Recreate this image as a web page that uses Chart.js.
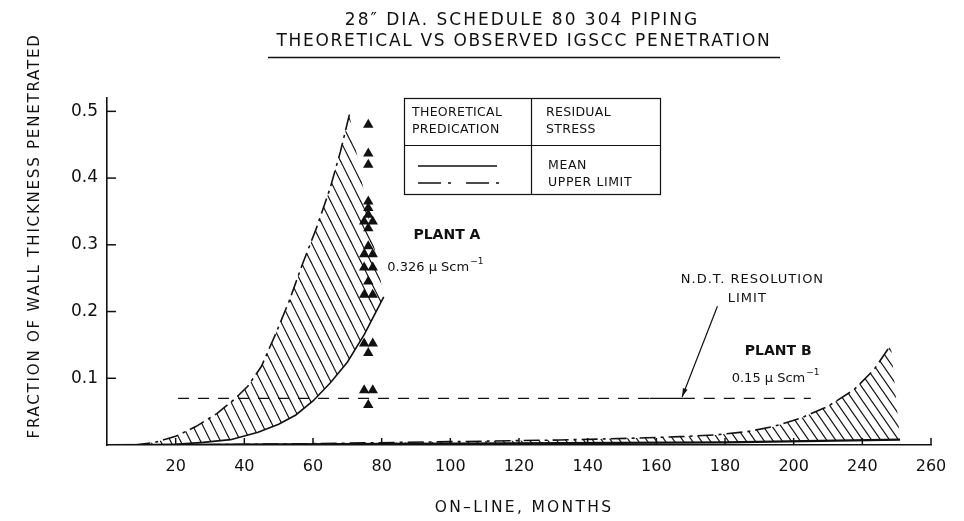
<!DOCTYPE html>
<html>
<head>
<meta charset="utf-8">
<script src="https://cdn.jsdelivr.net/npm/chart.js@4.4.1/dist/chart.umd.min.js"></script>
<style>
  html, body { margin: 0; padding: 0; background: #fff; }
  #wrap { width: 964px; height: 521px; position: relative; }
</style>
</head>
<body>
<div id="wrap"><canvas id="c" width="964" height="521"></canvas></div>
<script>
// ---- axis ticks (on-line months) and the labels printed under them ----
const xTickValues = [20, 40, 60, 80, 100, 120, 140, 160, 180, 200, 220, 240];
const xTickLabels = ['20', '40', '60', '80', '100', '120', '140', '160', '180', '200', '240', '260'];
const yTickValues = [0.1, 0.2, 0.3, 0.4, 0.5];
const yTickLabels = ['0.1', '0.2', '0.3', '0.4', '0.5'];

// ---- Plant A (0.326 uS/cm): theoretical prediction ----
const plantAUpperMonths   = [8, 14, 20, 26, 32, 37, 41, 45, 49, 53, 57, 61, 65, 68, 70.6];
const plantAUpperFraction = [0, 0.004, 0.013, 0.028, 0.047, 0.068, 0.088, 0.118, 0.165, 0.215, 0.272, 0.325, 0.385, 0.44, 0.495];
const plantAMeanMonths    = [10, 20, 28, 36, 44, 50, 55, 60, 65, 70, 75, 80.6];
const plantAMeanFraction  = [0, 0.001, 0.004, 0.008, 0.019, 0.031, 0.045, 0.066, 0.093, 0.124, 0.166, 0.222];

// ---- Plant A observed penetrations ----
const obsAMonths   = [76.1, 76.1, 76.1, 76.1, 76.1, 76.1, 74.9, 77.4, 76.1, 76.1, 74.9, 77.4, 74.9, 77.4, 76.1, 74.9, 77.4, 74.9, 77.4, 76.1, 74.9, 77.4, 76.1];
const obsAFraction = [0.48, 0.437, 0.42, 0.365, 0.355, 0.345, 0.335, 0.335, 0.325, 0.298, 0.286, 0.286, 0.266, 0.266, 0.245, 0.225, 0.225, 0.152, 0.152, 0.138, 0.082, 0.082, 0.06];

// ---- Plant B (0.15 uS/cm): theoretical prediction ----
const plantBUpperMonths   = [20, 60, 100, 132, 152, 167, 177, 186.5, 194, 202, 210, 217.6, 223.4, 228.3];
const plantBUpperFraction = [0, 0.002, 0.005, 0.0075, 0.01, 0.0125, 0.015, 0.02, 0.0275, 0.04, 0.058, 0.083, 0.113, 0.15];
const plantBMeanMonths    = [0, 100, 180, 231];
const plantBMeanFraction  = [0, 0.002, 0.004, 0.008];

// ---- N.D.T. resolution limit ----
const ndtMonths   = [20.7, 158, 168, 205];
const ndtFraction = [0.07, 0.07, 0.07, 0.07];

const INK = '#111';
const FONT = "'DejaVu Sans', 'Liberation Sans', sans-serif";

const pts = (xs, ys) => xs.map((x, i) => ({ x, y: ys[i] }));
const band = (ux, uy, mx, my) => pts(ux, uy).concat(pts(mx, my).reverse());

// diagonal line hatching tile
function hatch(w, h, lw) {
  const c = document.createElement('canvas');
  c.width = w; c.height = h;
  const g = c.getContext('2d');
  g.strokeStyle = INK; g.lineWidth = lw;
  for (let k = -1; k <= 1; k++) {
    g.beginPath();
    g.moveTo(k * w - w, -h);
    g.lineTo(k * w + 2 * w, 2 * h);
    g.stroke();
  }
  return g.createPattern(c, 'repeat');
}

function txt(ctx, s, x, y, font, align, spacing) {
  ctx.font = font;
  ctx.textAlign = align || 'center';
  ctx.textBaseline = 'middle';
  const hasLS = 'letterSpacing' in ctx;
  if (hasLS) ctx.letterSpacing = (spacing || 0) + 'px';
  ctx.fillText(s, x, y);
  if (hasLS) ctx.letterSpacing = '0px';
}

// text followed by a "-1" superscript, centred on x
function unitText(ctx, s, x, y, font, supFont) {
  ctx.font = font;
  const w1 = ctx.measureText(s).width;
  ctx.font = supFont;
  const w2 = ctx.measureText('\u22121').width;
  const left = x - (w1 + w2) / 2;
  txt(ctx, s, left, y, font, 'left');
  txt(ctx, '\u22121', left + w1 + 1, y - 6, supFont, 'left');
}

function seg(ctx, x1, y1, x2, y2) {
  ctx.beginPath(); ctx.moveTo(x1, y1); ctx.lineTo(x2, y2); ctx.stroke();
}

const decor = {
  id: 'decor',
  afterDraw(chart) {
    const { ctx, chartArea: a } = chart;
    const xs = chart.scales.x, ys = chart.scales.y;
    const X = v => xs.getPixelForValue(v);
    const Y = v => ys.getPixelForValue(v);
    ctx.save();
    ctx.strokeStyle = INK;
    ctx.fillStyle = INK;
    ctx.lineCap = 'butt';

    // inward tick marks
    ctx.lineWidth = 1.5;
    xs.ticks.forEach(t => seg(ctx, X(t.value), a.bottom, X(t.value), a.bottom - 7));
    ys.ticks.forEach(t => seg(ctx, a.left, Y(t.value), a.left + 9, Y(t.value)));

    // title
    txt(ctx, '28\u2033 DIA. SCHEDULE 80 304 PIPING', 522, 21, '17px ' + FONT, 'center', 2);
    txt(ctx, 'THEORETICAL VS OBSERVED IGSCC PENETRATION', 524, 42, '17px ' + FONT, 'center', 1.7);
    ctx.lineWidth = 1.5;
    seg(ctx, 268, 57.5, 780, 57.5);

    // axis titles
    txt(ctx, 'ON\u2013LINE, MONTHS', 524, 508, '15.5px ' + FONT, 'center', 2.3);
    ctx.save();
    ctx.translate(35, 236);
    ctx.rotate(-Math.PI / 2);
    txt(ctx, 'FRACTION OF WALL THICKNESS PENETRATED', 0, 0, '15px ' + FONT, 'center', 1.8);
    ctx.restore();

    // residual-stress key
    ctx.lineWidth = 1.2;
    ctx.strokeRect(404.5, 98.5, 256, 96);
    seg(ctx, 404.5, 145.5, 660.5, 145.5);
    seg(ctx, 531.5, 98.5, 531.5, 194.5);
    const kf = '12.5px ' + FONT;
    txt(ctx, 'THEORETICAL', 412, 113, kf, 'left', 0.3);
    txt(ctx, 'PREDICATION', 412, 130, kf, 'left', 0.3);
    txt(ctx, 'RESIDUAL', 546, 113, kf, 'left', 0.3);
    txt(ctx, 'STRESS', 546, 130, kf, 'left', 0.3);
    txt(ctx, 'MEAN', 548, 166, kf, 'left', 0.6);
    txt(ctx, 'UPPER LIMIT', 548, 183, kf, 'left', 0.6);
    ctx.lineWidth = 1.5;
    seg(ctx, 418, 166, 497, 166);
    ctx.setLineDash([23, 7, 3, 15]);
    seg(ctx, 418, 183, 505, 183);
    ctx.setLineDash([]);

    // plant labels
    txt(ctx, 'PLANT A', X(99), Y(0.314), 'bold 14px ' + FONT, 'center', 0);
    unitText(ctx, '0.326 \u00b5 Scm', X(95.5), Y(0.266), '13px ' + FONT, '9px ' + FONT);
    txt(ctx, 'PLANT B', X(195.5), Y(0.141), 'bold 14px ' + FONT, 'center', 0);
    unitText(ctx, '0.15 \u00b5 Scm', X(194.6), Y(0.100), '13px ' + FONT, '9px ' + FONT);

    // N.D.T. note with arrow onto the limit line
    txt(ctx, 'N.D.T. RESOLUTION', X(188), Y(0.248), '13px ' + FONT, 'center', 1);
    txt(ctx, 'LIMIT', X(186.5), Y(0.220), '13px ' + FONT, 'center', 1);
    const ax1 = X(177.8), ay1 = Y(0.208), ax2 = X(167.5), ay2 = Y(0.072);
    ctx.lineWidth = 1.2;
    seg(ctx, ax1, ay1, ax2, ay2);
    const ang = Math.atan2(ay2 - ay1, ax2 - ax1);
    ctx.beginPath();
    ctx.moveTo(ax2, ay2);
    ctx.lineTo(ax2 - 9 * Math.cos(ang - 0.28), ay2 - 9 * Math.sin(ang - 0.28));
    ctx.lineTo(ax2 - 9 * Math.cos(ang + 0.28), ay2 - 9 * Math.sin(ang + 0.28));
    ctx.closePath();
    ctx.fill();

    ctx.restore();
  }
};

const lineDefaults = { pointRadius: 0, borderColor: INK, fill: false, tension: 0 };

new Chart(document.getElementById('c'), {
  type: 'line',
  data: {
    datasets: [
      { ...lineDefaults, label: 'Plant A band', data: band(plantAUpperMonths, plantAUpperFraction, plantAMeanMonths, plantAMeanFraction),
        borderWidth: 0, fill: 'shape', backgroundColor: hatch(10, 20, 1.2) },
      { ...lineDefaults, label: 'Plant B band', data: band(plantBUpperMonths, plantBUpperFraction, plantBMeanMonths, plantBMeanFraction),
        borderWidth: 0, fill: 'shape', backgroundColor: hatch(9, 13, 1.2) },
      { ...lineDefaults, label: 'Plant A upper limit', data: pts(plantAUpperMonths, plantAUpperFraction),
        borderWidth: 1.6, borderDash: [16, 5, 3, 5] },
      { ...lineDefaults, label: 'Plant A mean', data: pts(plantAMeanMonths, plantAMeanFraction), borderWidth: 1.6 },
      { ...lineDefaults, label: 'Plant B upper limit', data: pts(plantBUpperMonths, plantBUpperFraction),
        borderWidth: 1.6, borderDash: [16, 5, 3, 5] },
      { ...lineDefaults, label: 'Plant B mean', data: pts(plantBMeanMonths, plantBMeanFraction), borderWidth: 2.2 },
      { ...lineDefaults, label: 'N.D.T. resolution limit', data: pts(ndtMonths, ndtFraction), borderWidth: 1.2,
        borderDash: [11, 9],
        segment: { borderDash: c => (c.p0DataIndex === 1 ? [] : [11, 9]) } },
      { label: 'Plant A observed', data: pts(obsAMonths, obsAFraction), showLine: false,
        pointStyle: 'triangle', pointRadius: 6, pointBackgroundColor: INK, pointBorderColor: INK, pointBorderWidth: 0 }
    ]
  },
  options: {
    responsive: false,
    animation: false,
    events: [],
    layout: { padding: { top: 98, right: 33, left: 0, bottom: 0 } },
    plugins: { legend: { display: false }, tooltip: { enabled: false }, title: { display: false } },
    scales: {
      x: {
        type: 'linear', min: 0, max: 240,
        afterBuildTicks: s => { s.ticks = xTickValues.map(v => ({ value: v })); },
        afterFit: s => { s.height = 76; },
        ticks: { autoSkip: false, maxRotation: 0, padding: 12, color: INK,
                 font: { family: FONT, size: 16 },
                 callback: (v, i) => xTickLabels[i] },
        grid: { display: false, drawTicks: false },
        border: { display: true, color: INK, width: 1.6 }
      },
      y: {
        min: 0, max: 0.52,
        afterBuildTicks: s => { s.ticks = yTickValues.map(v => ({ value: v })); },
        afterFit: s => { s.width = 107; },
        ticks: { autoSkip: false, padding: 9, color: INK,
                 font: { family: FONT, size: 17 },
                 callback: (v, i) => yTickLabels[i] },
        grid: { display: false, drawTicks: false },
        border: { display: true, color: INK, width: 1.6 }
      }
    }
  },
  plugins: [decor]
});
</script>
</body>
</html>
